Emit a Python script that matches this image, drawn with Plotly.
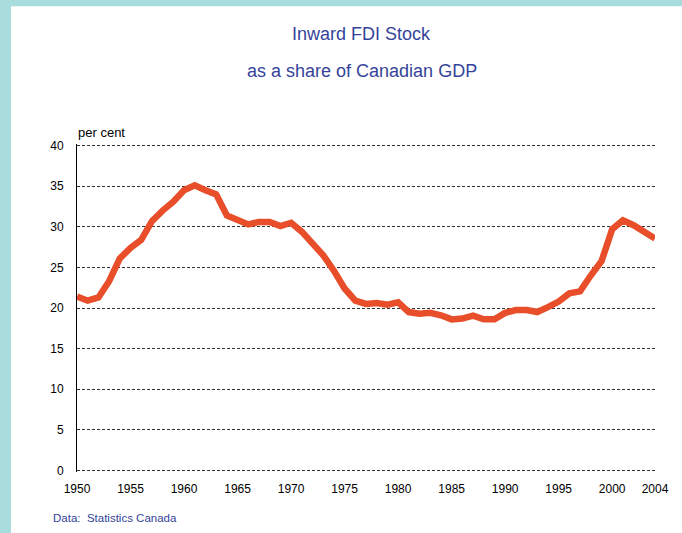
import plotly.graph_objects as go

years = list(range(1950, 2005))
share = [21.4, 20.9, 21.3, 23.3, 26.1, 27.4, 28.4, 30.7, 32.0, 33.1,
         34.5, 35.1, 34.5, 34.0, 31.4, 30.9, 30.3, 30.6, 30.6, 30.1,
         30.5, 29.4, 28.0, 26.5, 24.6, 22.4, 20.9, 20.5, 20.6, 20.4,
         20.7, 19.5, 19.3, 19.4, 19.1, 18.6, 18.7, 19.05, 18.6, 18.6,
         19.4, 19.75, 19.75, 19.5, 20.1, 20.8, 21.8, 22.05, 24.0, 25.75,
         29.7, 30.8, 30.2, 29.4, 28.55]

x_tickvals = [1950, 1955, 1960, 1965, 1970, 1975, 1980, 1985, 1990, 1995, 2000, 2004]
x_ticktext = [str(v) for v in x_tickvals]
y_tickvals = [0, 5, 10, 15, 20, 25, 30, 35, 40]

title1 = "Inward FDI Stock"
title2 = "as a share of Canadian GDP"
unit_label = "per cent"
source = "Data:  Statistics Canada"

W, H = 682, 533
# pixel positions of y=0 and y=40, x=1950 and x=2004
X0, X1 = 77, 655
Y40, Y0 = 146, 470
YPAD = 0.2  # small range padding so the edge gridlines are drawn
unit_px = (Y0 - Y40) / 40.0
L, R = X0, W - X1
T = Y40 - YPAD * unit_px
B = H - Y0 - YPAD * unit_px
PW, PH = W - L - R, H - T - B

def px(x):
    return (x - L) / PW

def py(y):
    return (H - B - y) / PH

navy = "#34449a"
teal = "#a9dcdd"
font = "Liberation Sans, Arial, sans-serif"

fig = go.Figure()
fig.add_trace(go.Scatter(x=years, y=share, mode="lines",
                         line=dict(color="#e84e2a", width=6.5),
                         hoverinfo="x+y"))

fig.update_layout(
    width=W, height=H,
    margin=dict(l=L, r=R, t=T, b=B, pad=0),
    paper_bgcolor="white", plot_bgcolor="white",
    showlegend=False,
    font=dict(family=font, size=12, color="black"),
    xaxis=dict(range=[1950, 2004], tickvals=x_tickvals, ticktext=x_ticktext,
               showgrid=False, zeroline=False, showline=False, ticks="",
               tickfont=dict(size=12, color="black"),
               ticklabelstandoff=8),
    yaxis=dict(range=[-YPAD, 40 + YPAD], tickvals=y_tickvals, showgrid=True,
               gridcolor="#333333", griddash="3px,2px", gridwidth=1,
               zeroline=False, showline=True, linecolor="black", linewidth=1,
               ticks="", tickfont=dict(size=12, color="black"),
               ticklabelstandoff=10),
    shapes=[
        dict(type="rect", xref="paper", yref="paper", x0=px(-5), x1=px(W + 5),
             y0=py(7), y1=py(-5), fillcolor=teal, line=dict(width=0), layer="above"),
        dict(type="rect", xref="paper", yref="paper", x0=px(-5), x1=px(11),
             y0=py(H + 5), y1=py(-5), fillcolor=teal, line=dict(width=0), layer="above"),
    ],
    annotations=[
        dict(text=title1, xref="paper", yref="paper", x=px(361.5), y=py(35),
             xanchor="center", yanchor="middle", showarrow=False,
             font=dict(size=18, color=navy, family=font)),
        dict(text=title2, xref="paper", yref="paper", x=px(361.5), y=py(72),
             xanchor="center", yanchor="middle", showarrow=False,
             font=dict(size=18, color=navy, family=font)),
        dict(text=unit_label, xref="paper", yref="paper", x=px(76), y=py(133),
             xanchor="left", yanchor="middle", showarrow=False,
             font=dict(size=13, color="black", family=font)),
        dict(text=source, xref="paper", yref="paper", x=px(51), y=py(518),
             xanchor="left", yanchor="middle", showarrow=False,
             font=dict(size=11.5, color=navy, family=font)),
    ],
)

fig.write_html("out.html", config={"displayModeBar": False},
               post_script="document.body.style.margin='0';document.body.style.overflow='hidden';")
